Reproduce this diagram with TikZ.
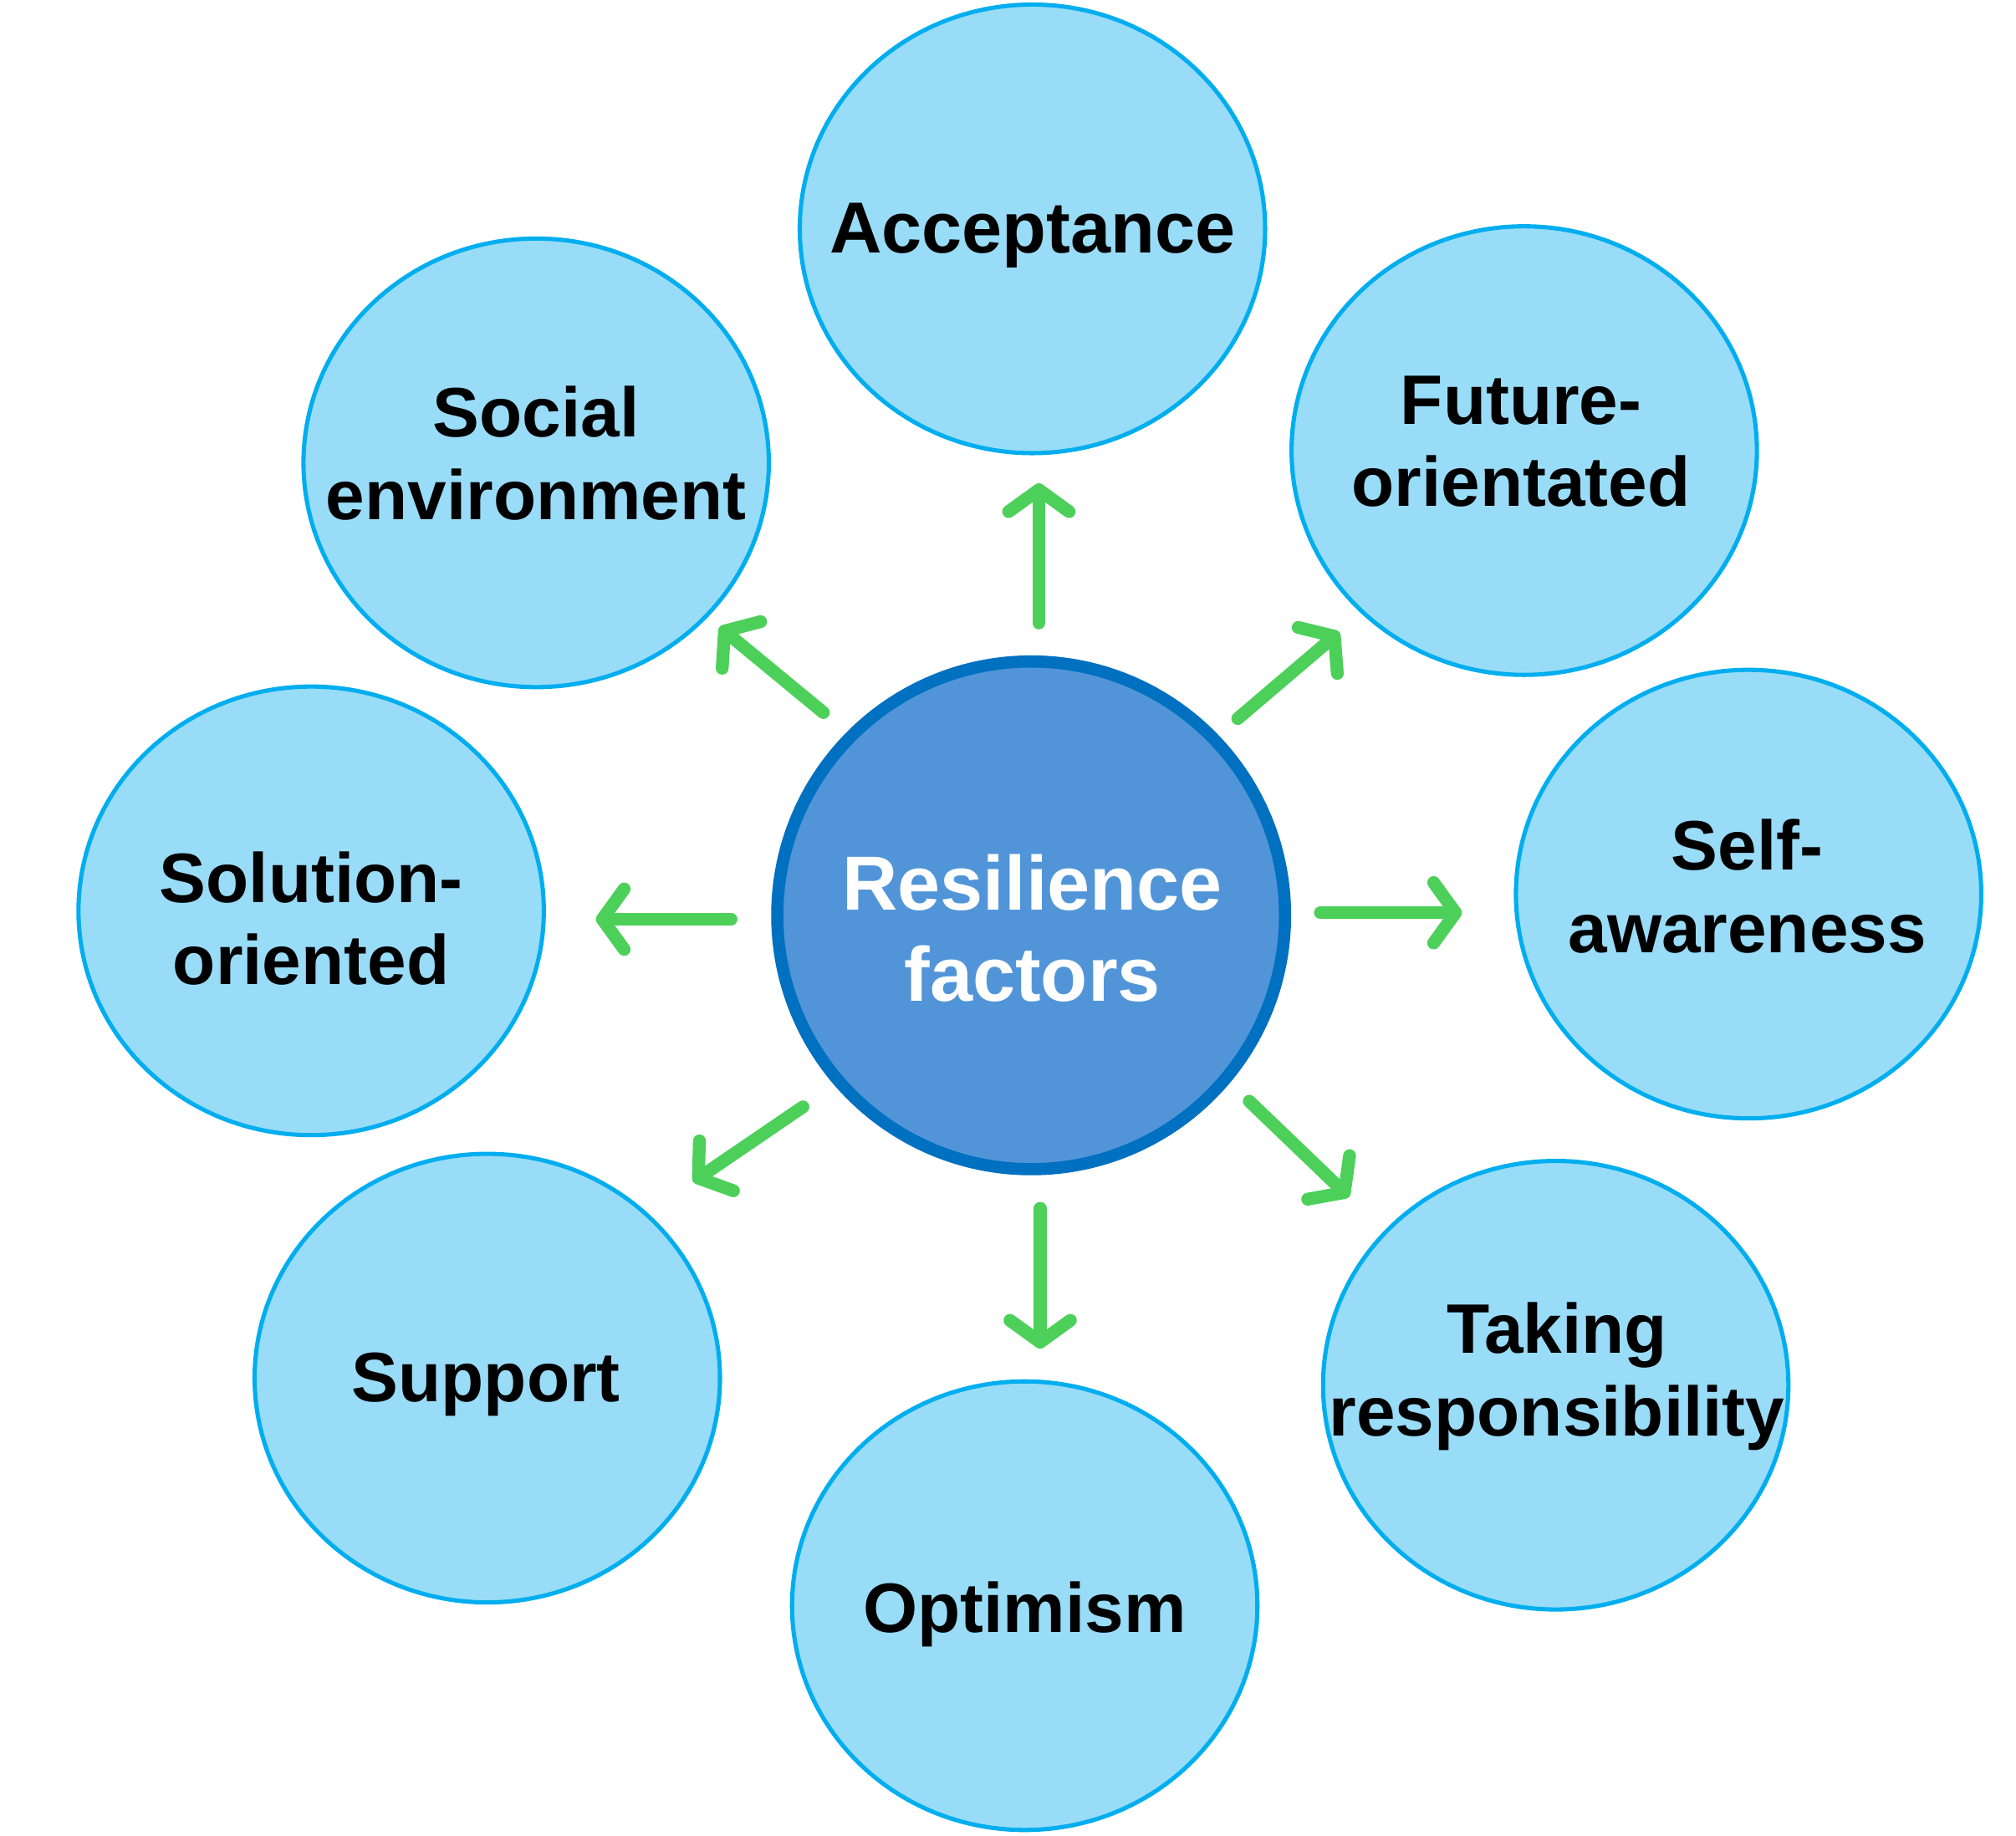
\documentclass[tikz,border=0pt]{standalone}
\usepackage{fontspec}
\setmainfont{Liberation Sans}
\usetikzlibrary{arrows.meta,shapes.geometric,calc}
\definecolor{bubfill}{RGB}{153,220,247}
\definecolor{bubline}{RGB}{0,174,239}
\definecolor{corefill}{RGB}{81,149,216}
\definecolor{coreline}{RGB}{0,112,192}
\definecolor{arrgreen}{RGB}{76,208,90}
\begin{document}
\begin{tikzpicture}[x=0.02cm,y=-0.02cm,
  bub/.style={ellipse, draw=bubline, fill=bubfill, line width=0.066cm,
    minimum width=7.24cm, minimum height=6.98cm, inner sep=0pt, outer sep=0pt},
  core/.style={circle, draw=coreline, fill=corefill, line width=0.19cm,
    minimum size=7.9cm, inner sep=0pt, outer sep=0pt},
  lbl/.style={anchor=north, align=center, inner sep=0pt,
    font=\fontsize{31}{36.5}\selectfont\bfseries},
  corelbl/.style={anchor=north, align=center, inner sep=0pt, text=white,
    font=\fontsize{34}{40.5}\selectfont\bfseries},
  arr/.style={draw=arrgreen, line width=0.2cm, line cap=round,
    -{Straight Barb[length=0.34cm,width=0.94cm,round]}}
]
\useasboundingbox (0,0) rectangle (1568,1428);

% circles
\node[core] (c) at (802,712) {};
\node[bub] (acc) at (803,178) {};
\node[bub] (soc) at (417,360) {};
\node[bub] (fut) at (1185.5,350.5) {};
\node[bub] (sol) at (242,708.5) {};
\node[bub] (sel) at (1360,695.5) {};
\node[bub] (sup) at (379,1072) {};
\node[bub] (tak) at (1210,1077.5) {};
\node[bub] (opt) at (797,1249) {};

% labels
\node[corelbl] (cl) at (803,664) {Resilience\\factors};
\node[lbl, font=\fontsize{32}{38}\selectfont\bfseries] (accl) at (803,158) {Acceptance};
\node[lbl] (socl) at (417,300) {Social\\environment};
\node[lbl] (futl) at (1183,292) {Future-\\orientated};
\node[lbl] (soll) at (242,662) {Solution-\\oriented};
\node[lbl] (sell) at (1359,637) {Self-\\awareness};
\node[lbl] (supl) at (378,1052) {Support};
\node[lbl] (takl) at (1211,1013) {Taking\\responsibility};
\node[lbl] (optl) at (797,1230) {Optimism};

% arrows
\draw[arr, shorten <=0.6cm, shorten >=0.47cm]
  ($(c.north)+(6,0)$) -- ($(c.north |- acc.south)+(6,0)$);
\draw[arr, shorten <=0.49cm, shorten >=0.48cm] (c.44.5) -- (fut.225.7);
\draw[arr, shorten <=0.55cm, shorten >=0.84cm]
  ($(c.east)+(0,-2)$) -- ($(c.east -| sel.west)+(0,-2)$);
\draw[arr, shorten <=0.51cm, shorten >=0.79cm] (c.320) -- (tak.138.3);
\draw[arr, shorten <=0.61cm, shorten >=0.51cm]
  ($(c.south)+(7,0)$) -- ($(c.south |- opt.north)+(7,0)$);
\draw[arr, shorten <=0.69cm, shorten >=0.89cm] (c.221.2) -- (sup.46.5);
\draw[arr, shorten <=0.72cm, shorten >=0.81cm]
  ($(c.west)+(0,3)$) -- ($(c.west -| sol.east)+(0,3)$);
\draw[arr, shorten <=0.57cm, shorten >=0.27cm] (c.135.2) -- (soc.318.5);
\end{tikzpicture}
\end{document}
